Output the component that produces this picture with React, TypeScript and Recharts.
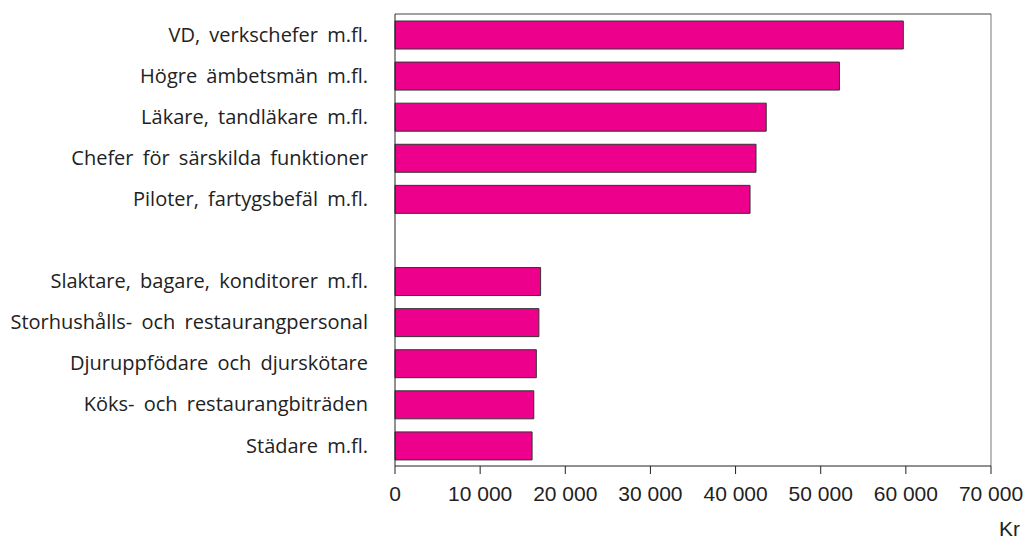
import {
  Bar,
  BarChart,
  Label,
  ReferenceLine,
  XAxis,
  YAxis,
} from 'recharts';

const occupations = [
  'VD, verkschefer m.fl.',
  'Högre ämbetsmän m.fl.',
  'Läkare, tandläkare m.fl.',
  'Chefer för särskilda funktioner',
  'Piloter, fartygsbefäl m.fl.',
  '',
  'Slaktare, bagare, konditorer m.fl.',
  'Storhushålls- och restaurangpersonal',
  'Djuruppfödare och djurskötare',
  'Köks- och restaurangbiträden',
  'Städare m.fl.',
];

const salaries: (number | null)[] = [
  59700, 52200, 43600, 42400, 41700, null, 17100, 16900, 16600, 16300, 16100,
];

const xTicks = [0, 10000, 20000, 30000, 40000, 50000, 60000, 70000];

const data = occupations.map((name, i) => ({ name, value: salaries[i] }));

const fmt = (v: number) => (v === 0 ? '0' : `${v / 1000} 000`);

export default function App() {
  return (
    <div style={{ position: 'absolute', left: 0, top: 0, background: '#fff' }}>
      <BarChart
        width={1026}
        height={539}
        data={data}
        layout="vertical"
        margin={{ top: 13, right: 35, left: 0, bottom: 2 }}
      >
        <XAxis
          type="number"
          domain={[0, 70000]}
          ticks={xTicks}
          tickFormatter={fmt}
          stroke="#222"
          tickSize={8}
          tickMargin={12}
          height={71}
          tick={{ fontFamily: 'Liberation Sans', fontSize: 21, fill: '#222' }}
          interval={0}
        >
          <Label
            content={({ viewBox }: any) => (
              <text
                x={viewBox.x + viewBox.width + 29}
                y={viewBox.y + 70}
                textAnchor="end"
                fontFamily="Liberation Sans"
                fontSize={21}
                fill="#222"
              >
                Kr
              </text>
            )}
          />
        </XAxis>
        <XAxis
          xAxisId="top"
          orientation="top"
          type="number"
          domain={[0, 70000]}
          tick={false}
          tickLine={false}
          height={1}
          stroke="#444"
        />
        <YAxis
          type="category"
          dataKey="name"
          width={395}
          stroke="#222"
          tickLine={false}
          tickSize={0}
          tickMargin={27}
          interval={0}
          tick={{ fontFamily: 'Open Sans', fontSize: 20, fill: '#222', wordSpacing: 4 } as any}
        />
        <ReferenceLine x={70000} stroke="#777" strokeWidth={1} />
        <Bar
          dataKey="value"
          fill="#EC008C"
          stroke="#333"
          strokeWidth={1}
          barSize={28}
          isAnimationActive={false}
        />
      </BarChart>
    </div>
  );
}
